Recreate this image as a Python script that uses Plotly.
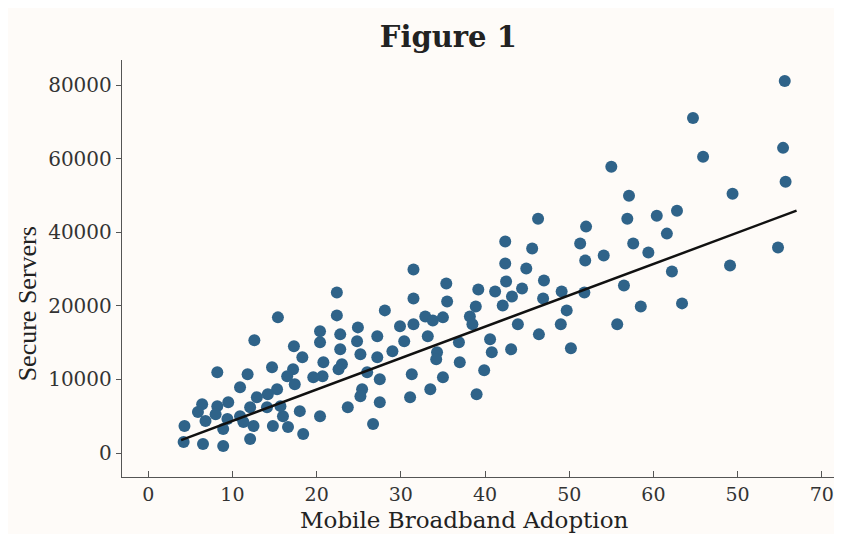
import plotly.graph_objects as go

# Mobile Broadband Adoption (axis position units) vs Secure Servers (axis position units)
adoption = [
    75.6, 64.7, 65.9, 75.4, 75.7, 55.0, 69.4, 57.1, 56.9, 60.4,
    62.8, 61.6, 57.6, 59.4, 54.1, 52.0, 51.3, 51.9, 46.3, 74.8,
    69.1, 62.2, 56.5, 58.5, 63.4, 55.7, 51.8, 49.7, 49.0, 50.2,
    46.4, 49.1, 47.0, 46.9, 45.6, 44.9, 42.4, 42.4, 42.5, 44.4,
    43.2, 42.1, 41.2, 39.2, 38.9, 38.2, 38.5, 43.9, 40.6, 40.8,
    43.1, 36.9, 34.3, 33.2, 35.0, 32.9, 31.5, 29.9, 30.4, 31.5,
    31.5, 35.4, 35.5, 22.4, 15.4, 22.4, 12.6, 17.3, 20.4, 20.4,
    22.8, 22.8, 24.8, 24.9, 27.2, 28.1, 33.8, 34.2, 37.0, 39.9,
    39.0, 35.0, 33.5, 31.1, 31.3, 27.2, 29.0, 26.0, 27.5, 27.5,
    23.7, 25.4, 25.2, 23.0, 22.6, 20.8, 20.7, 19.6, 18.3, 17.2,
    16.5, 17.4, 14.7, 15.3, 14.2, 14.1, 12.9, 12.1, 10.9, 11.8,
    8.2, 9.5, 8.2, 6.4, 8.0, 6.8, 5.9, 4.3, 9.4, 8.9,
    10.9, 12.5, 14.8, 16.6, 18.4, 20.4, 18.0, 16.0, 26.7, 12.1,
    8.9, 6.5, 4.2, 25.2, 11.3, 15.7,
]
servers = [
    50540, 45530, 40240, 41460, 36860, 38890, 35230, 34960, 31840, 32250,
    32930, 29810, 28460, 27240, 26830, 30760, 28460, 26150, 31840, 27910,
    25470, 24660, 22760, 19920, 20330, 17480, 21820, 19380, 17480, 14230,
    16120, 21950, 23440, 21000, 27780, 25070, 28730, 25750, 23310, 22360,
    21270, 20050, 21950, 22220, 19920, 18560, 17480, 17480, 15450, 13690,
    14090, 15040, 13690, 15850, 18430, 18560, 17480, 17210, 15180, 24930,
    21000, 23040, 20600, 21820, 18430, 18700, 15310, 14500, 16530, 15040,
    16120, 14090, 15180, 17070, 15850, 19380, 18020, 12740, 12330, 11250,
    7990, 10300, 8670, 7590, 10700, 13010, 13820, 10980, 10030, 6910,
    6230, 8670, 7720, 12060, 11380, 12330, 10430, 10300, 13010, 11380,
    10430, 9350, 11650, 8670, 7990, 6230, 7590, 6230, 8940, 10700,
    10980, 6910, 6370, 6640, 5280, 4340, 5560, 3660, 4610, 3250,
    5010, 3660, 3660, 3520, 2570, 5010, 5690, 5010, 3930, 1900,
    950, 1220, 1490, 13410, 4200, 6370,
]

# Fitted line end points
fit_x = [3.9, 77.0]
fit_y = [1760, 32930]

# Tick positions and their printed labels (as shown in the figure)
x_tick_pos = [0, 10, 20, 30, 40, 50, 60, 70, 80]
x_tick_text = ["0", "10", "20", "30", "40", "50", "60", "50", "70"]
y_tick_pos = [0, 10000, 20000, 30000, 40000, 50000]
y_tick_text = ["0", "10000", "20000", "40000", "60000", "80000"]

BG = "#fefbf8"
AX = "#555555"
SERIF = "DejaVu Serif"

fig = go.Figure()
fig.add_trace(go.Scatter(
    x=adoption, y=servers, mode="markers",
    marker=dict(color="#2f6389", size=12, line=dict(width=0)),
    showlegend=False, hoverinfo="skip",
))
fig.add_trace(go.Scatter(
    x=fit_x, y=fit_y, mode="lines",
    line=dict(color="#111111", width=2.5),
    showlegend=False, hoverinfo="skip",
))

fig.update_layout(
    width=834, height=526,
    paper_bgcolor=BG, plot_bgcolor=BG,
    margin=dict(l=114, r=0, t=52, b=57),
    title=dict(text="<b>Figure 1</b>", x=0.528, xref="container", xanchor="center",
               y=0.945, yref="container", yanchor="middle",
               font=dict(family=SERIF, size=29, color="#222222")),
    font=dict(family=SERIF, color="#333333"),
    xaxis=dict(
        range=[-3.12, 82.4], tickvals=x_tick_pos, ticktext=x_tick_text,
        showgrid=False, zeroline=False, showline=True, linecolor=AX, linewidth=1.4,
        ticks="inside", ticklen=6, tickcolor=AX, tickwidth=1.2,
        tickfont=dict(family=SERIF, size=19, color="#333333"),
    ),
    yaxis=dict(
        range=[-3260, 53400], tickvals=y_tick_pos, ticktext=y_tick_text,
        showgrid=False, zeroline=False, showline=True, linecolor=AX, linewidth=1.4,
        ticks="outside", ticklen=5, tickcolor=AX, tickwidth=1.2,
        tickfont=dict(family=SERIF, size=20, color="#333333"),
    ),
    annotations=[
        dict(text="Mobile Broadband Adoption", xref="paper", yref="paper",
             x=0.476, y=-0.104, xanchor="center", yanchor="middle", showarrow=False,
             font=dict(family=SERIF, size=23, color="#222222")),
        dict(text="Secure Servers", xref="paper", yref="paper", textangle=-90,
             x=-0.130, y=0.415, xanchor="center", yanchor="middle", showarrow=False,
             font=dict(family="Liberation Serif", size=26, color="#222222")),
    ],
)

fig.write_html("out.html")
